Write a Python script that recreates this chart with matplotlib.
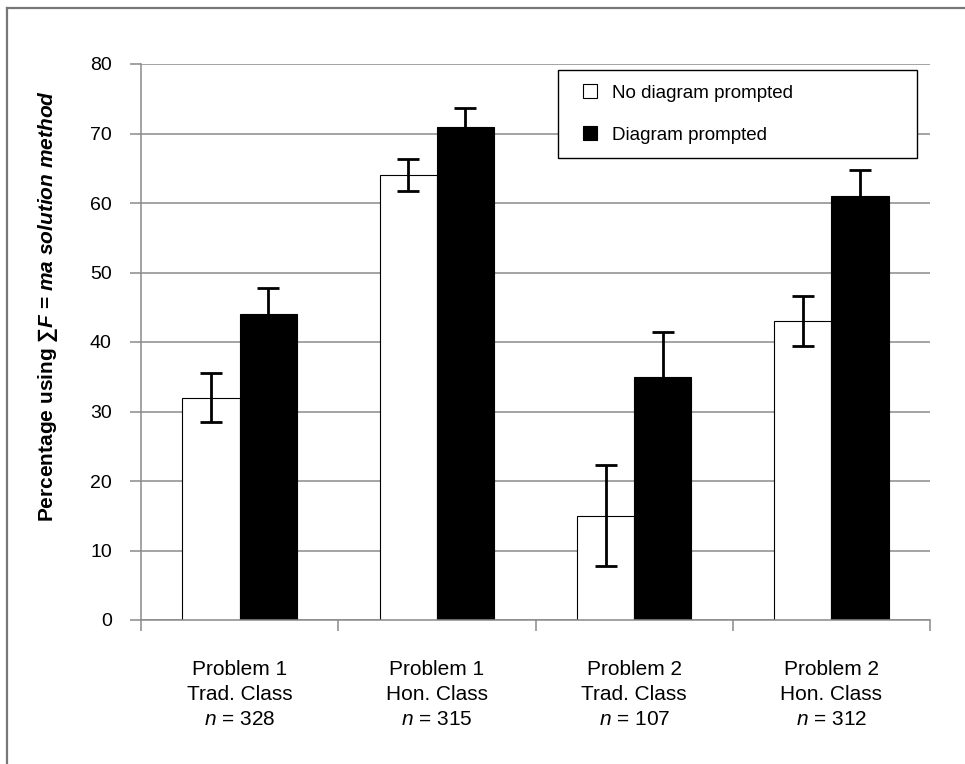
import numpy as np
import matplotlib
matplotlib.use("Agg")
import matplotlib.pyplot as plt
from matplotlib.lines import Line2D

plt.rcParams['font.family'] = ['Liberation Sans', 'DejaVu Sans']
plt.rcParams['mathtext.fontset'] = 'custom'
plt.rcParams['mathtext.it'] = 'Liberation Sans:italic'
plt.rcParams['mathtext.bf'] = 'Liberation Sans:bold:italic'

##################################
# DATA
##################################

groups = ["Problem 1\nTrad. Class\n$\\mathit{n}$ = 328",
          "Problem 1\nHon. Class\n$\\mathit{n}$ = 315",
          "Problem 2\nTrad. Class\n$\\mathit{n}$ = 107",
          "Problem 2\nHon. Class\n$\\mathit{n}$ = 312"]
no_diagram = [32, 64, 15, 43]
no_diagram_err = [3.5, 2.3, 7.3, 3.6]
diagram = [44, 71, 35, 61]
diagram_err = [3.7, 2.7, 6.4, 3.7]

series_labels = ["No diagram prompted", "Diagram prompted"]

##################################
# PLOTTING
##################################

grid_col = '#8a8a8a'
fig = plt.figure(figsize=(9.65, 7.64), dpi=100)
ax = fig.add_axes([141/965, 1 - 620/764, 789/965, 556/764])

x = np.arange(len(groups))
w = 0.29
err_kw = dict(ecolor='black', elinewidth=2.0, capsize=8, capthick=2.0)
ax.bar(x - w/2, no_diagram, w, yerr=no_diagram_err, color='white',
       edgecolor='black', linewidth=0.8, error_kw=err_kw, zorder=2)
ax.bar(x + w/2, diagram, w, yerr=diagram_err, color='black',
       edgecolor='black', linewidth=0.8, error_kw=err_kw, zorder=2)

ax.set_xlim(-0.5, len(groups) - 0.5)
ax.set_ylim(0, 80)
ax.set_yticks(np.arange(0, 81, 10))
ax.yaxis.grid(True, color=grid_col, linewidth=1.1)
ax.set_axisbelow(True)

# boundary ticks between the groups, group names on minor ticks
ax.set_xticks(np.arange(-0.5, len(groups)), labels=[])
ax.set_xticks(x, labels=groups, minor=True)
ax.tick_params(axis='x', which='major', direction='out', length=8,
               color=grid_col, width=1.1)
ax.tick_params(axis='x', which='minor', length=0, pad=28.5, labelsize=15)
ax.tick_params(axis='y', direction='out', length=8, color=grid_col,
               width=1.1, pad=13, labelsize=14)
for lbl in ax.get_xticklabels(minor=True):
    lbl.set_linespacing(1.42)

for s in ['top', 'right']:
    ax.spines[s].set_visible(False)
for s in ['left', 'bottom']:
    ax.spines[s].set_color(grid_col)
    ax.spines[s].set_linewidth(1.1)

fig.text(48/965, 1 - 306/764,
         "Percentage using ∑$\\mathbf{F}$ = $\\mathbf{ma}$ $\\mathbf{solution}$ $\\mathbf{method}$",
         rotation=90, ha='center', va='center', fontsize=15, fontweight='bold')

handles = [Line2D([], [], linestyle='none', marker='s', markersize=9.4,
                  markerfacecolor='white', markeredgecolor='black', markeredgewidth=0.8),
           Line2D([], [], linestyle='none', marker='s', markersize=9.4,
                  markerfacecolor='black', markeredgecolor='black', markeredgewidth=0.8)]
leg = fig.legend(handles, series_labels, loc='center', mode='expand',
                 bbox_to_anchor=(558/965, 1 - 158/764, 359/965, 88/764),
                 fontsize=13.5, borderpad=0.76, labelspacing=1.33,
                 handlelength=1.84, handletextpad=0.3, borderaxespad=0,
                 fancybox=False, framealpha=1, edgecolor='black')
leg.get_frame().set_linewidth(1.0)

# outer border of the chart area
fig.add_artist(Line2D([7/965, 1], [1 - 8/764, 1 - 8/764], color='#777777', linewidth=1.6))
fig.add_artist(Line2D([7/965, 7/965], [0, 1 - 8/764], color='#777777', linewidth=1.6))

plt.savefig("out.png")
